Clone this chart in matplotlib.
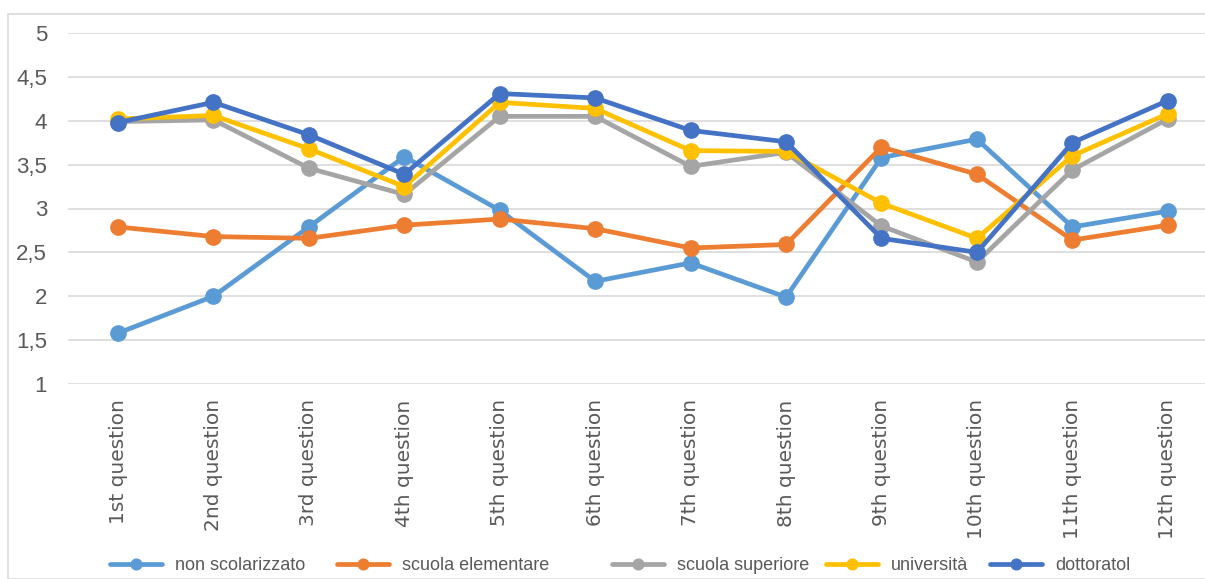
import numpy as np
import matplotlib
matplotlib.use("Agg")
import matplotlib.pyplot as plt
from matplotlib.patches import Rectangle

plt.rcParams['font.family'] = ['Liberation Sans', 'DejaVu Sans']

# ---------------------------------------------------------------------------
questions = ["1st question", "2nd question", "3rd question", "4th question",
             "5th question", "6th question", "7th question", "8th question",
             "9th question", "10th question", "11th question", "12th question"]

non_scolarizzato = [1.58, 2.0, 2.79, 3.59, 2.98, 2.17, 2.38, 1.99, 3.58, 3.79, 2.79, 2.97]
scuola_elementare = [2.79, 2.68, 2.66, 2.81, 2.88, 2.77, 2.55, 2.59, 3.70, 3.39, 2.64, 2.81]
scuola_superiore = [3.99, 4.01, 3.46, 3.16, 4.05, 4.05, 3.48, 3.64, 2.80, 2.39, 3.44, 4.02]
universita = [4.02, 4.06, 3.68, 3.25, 4.21, 4.14, 3.66, 3.65, 3.06, 2.66, 3.60, 4.08]
dottoratol = [3.98, 4.21, 3.84, 3.39, 4.31, 4.26, 3.89, 3.76, 2.66, 2.50, 3.75, 4.23]

series = [
    ("non scolarizzato", non_scolarizzato, "#5B9BD5"),
    ("scuola elementare", scuola_elementare, "#ED7D31"),
    ("scuola superiore", scuola_superiore, "#A5A5A5"),
    ("università", universita, "#FFC000"),
    ("dottoratol", dottoratol, "#4472C4"),
]

# legend entry left edges (pixels), legend is laid out unevenly in the original
legend_x = [110, 337, 612, 826, 990]

# ---------------------------------------------------------------------------
W, H = 1205, 579
fig = plt.figure(figsize=(W / 100, H / 100), dpi=100)

# outer chart border
fig.patches.append(Rectangle((8 / W, 0), 1.2, (H - 14) / H, transform=fig.transFigure,
                             fill=False, edgecolor="#D9D9D9", linewidth=1.2))

ax = fig.add_axes([68 / W, 1 - 384 / H, (W - 68) / W, (384 - 33) / H])
x = np.arange(len(questions))

lines = []
for name, vals, col in series:
    ln, = ax.plot(x, vals, color=col, linewidth=3.4, marker="o", markersize=11,
                  label=name, solid_capstyle="round")
    lines.append(ln)

ax.set_ylim(1, 5)
ax.set_xlim(-0.524, 11.39)
ax.set_yticks(np.arange(1, 5.01, 0.5))
ax.set_yticklabels([f"{v:g}".replace(".", ",") for v in np.arange(1, 5.01, 0.5)])
ax.set_xticks(x)
ax.set_xticklabels(questions, rotation=90, va="top", ha="center",
                   family=["DejaVu Sans"])

ax.grid(axis="y", color="#D9D9D9", linewidth=1.2)
ax.set_axisbelow(True)
for s in ax.spines.values():
    s.set_visible(False)
ax.tick_params(axis="both", length=0, colors="#595959")
ax.tick_params(axis="y", labelsize=16, pad=15)
ax.tick_params(axis="x", labelsize=14.5, pad=11)

# one legend per entry so each sits where it does in the original
for ln, lx in zip(lines, legend_x):
    leg = fig.legend(handles=[ln], loc="center left",
                     bbox_to_anchor=(lx / W, 1 - 566 / H), frameon=False,
                     fontsize=13, labelcolor="#595959", borderpad=0,
                     borderaxespad=0, handlelength=2.9, handletextpad=0.7,
                     markerscale=0.7)

fig.savefig("out.png", dpi=100)
